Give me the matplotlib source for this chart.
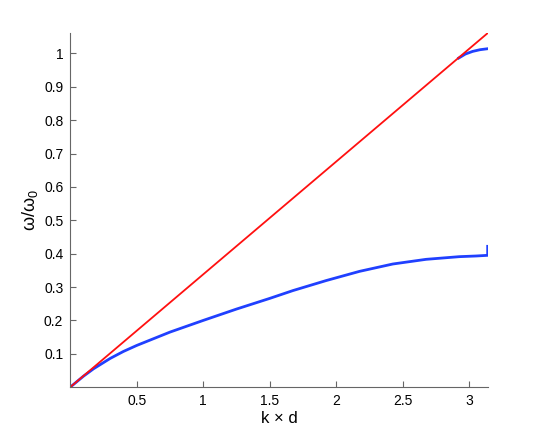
import matplotlib
matplotlib.use("Agg")
import matplotlib.pyplot as plt
import numpy as np

plt.rcParams['font.family'] = ['Liberation Sans', 'DejaVu Sans']
plt.rcParams['mathtext.fontset'] = 'custom'
plt.rcParams['mathtext.rm'] = 'Liberation Sans'

# light line (red), straight through the origin
light_x = [0.0, np.pi]
light_y = [0.0, 1.062]

# lower branch (blue)
low_x = [0.0, 0.1, 0.175, 0.3, 0.4, 0.5, 0.75, 1.0, 1.25, 1.5, 1.675, 1.925,
         2.175, 2.425, 2.675, 2.925, 3.05, 3.138, 3.138]
low_y = [0.0, 0.033, 0.055, 0.086, 0.107, 0.125, 0.165, 0.200, 0.234, 0.266,
         0.2895, 0.3195, 0.347, 0.369, 0.383, 0.391, 0.393, 0.395, 0.422]

# upper branch (blue), only near the zone edge
up_x = [2.92, 2.97, 3.025, 3.08, 3.138]
up_y = [0.986, 0.998, 1.006, 1.011, 1.014]

fig = plt.figure(figsize=(5.4, 4.36), dpi=100)
ax = fig.add_axes([0.130, 0.112, 0.774, 0.813])

ax.plot(low_x, low_y, color='#2040ff', linewidth=2.0)
ax.plot(up_x, up_y, color='#2040ff', linewidth=2.0)
ax.plot(light_x, light_y, color='#ff1010', linewidth=1.3)

ax.set_xlim(0, np.pi)
ax.set_ylim(0, 1.062)
ax.set_xticks([0.5, 1, 1.5, 2, 2.5, 3])
ax.set_xticklabels(['0.5', '1', '1.5', '2', '2.5', '3'])
ax.set_yticks([0.1, 0.2, 0.3, 0.4, 0.5, 0.6, 0.7, 0.8, 0.9, 1])
ax.set_yticklabels(['0.1', '0.2', '0.3', '0.4', '0.5', '0.6', '0.7', '0.8', '0.9', '1'])

for s in ['top', 'right']:
    ax.spines[s].set_visible(False)
for s in ['left', 'bottom']:
    ax.spines[s].set_color('0.4')
    ax.spines[s].set_linewidth(0.8)
ax.tick_params(direction='in', length=4, color='0.4', labelsize=10, pad=5)

ax.set_xlabel('k × d', fontsize=12, labelpad=2)
ax.set_ylabel('ω/ω$_0$', fontsize=13, labelpad=3)

fig.savefig('out.png', dpi=100)
